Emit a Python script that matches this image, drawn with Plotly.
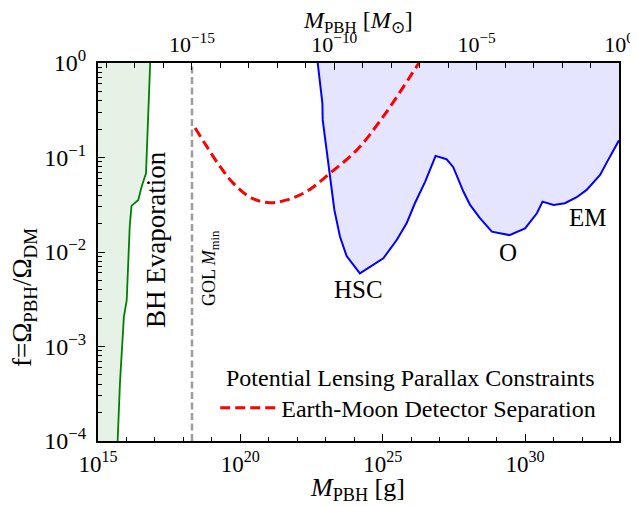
import plotly.graph_objects as go

# ---- data ----
MSUN_G = 1.989e33

evap_m = [6.8e16, 4.85e16, 3.4e16, 2.6e16, 1.5e16, 1.3e16, 1.02e16, 8.1e15, 5.9e15, 4.9e15]
evap_f = [1.0, 0.068, 0.049, 0.0356, 0.0308, 0.0186, 0.0031, 0.00206, 0.00041, 1e-4]

lens_m = [5.2e22, 7.6e22, 7.8e22, 1.41e23, 2.0e23, 3.16e23, 5.4e23, 1.58e24, 1.05e25, 3.1e25,
          6.9e25, 1.35e26, 3.1e26, 7.2e26, 1.74e27, 3.0e27, 6.8e27, 1.17e28, 2.6e28, 6.8e28,
          2.8e29, 1.0e30, 2.6e30, 4.1e30, 1.0e31, 2.5e31, 6.5e31, 1.45e32, 4.3e32, 8.3e32,
          1.86e33, 1.989e33]
lens_f = [1.0, 0.377, 0.25, 0.0628, 0.0279, 0.0145, 0.00906, 0.00594, 0.00857, 0.0134,
          0.0201, 0.0328, 0.0556, 0.104, 0.096, 0.079, 0.0436, 0.0315, 0.0228, 0.0164,
          0.0151, 0.0178, 0.0257, 0.0341, 0.0315, 0.0328, 0.038, 0.0454, 0.0655, 0.0944,
          0.144, 0.152]

em_m = [2.57e18, 6.6e18, 1.95e19, 5.6e19, 2.5e20, 1.1e21, 4.3e21, 2.1e22, 1.41e23, 1.23e24,
        1.05e25, 1.86e26]
em_f = [0.205, 0.131, 0.080, 0.0535, 0.0371, 0.0333, 0.0356, 0.0436, 0.0682, 0.120,
        0.272, 1.0]

gol_mmin = 2.0e18

x_range = [1e15, MSUN_G]
y_range = [1e-4, 1.0]

bottom_ticks = [1e15, 1e20, 1e25, 1e30]
bottom_labels = ["10<sup>15</sup>", "10<sup>20</sup>", "10<sup>25</sup>", "10<sup>30</sup>"]
top_ticks = [1e-15, 1e-10, 1e-5, 1e0]
top_labels = ["10<sup>−15</sup>", "10<sup>−10</sup>", "10<sup>−5</sup>", "10<sup>0</sup>"]
y_ticks = [1e-4, 1e-3, 1e-2, 1e-1, 1e0]
y_labels = ["10<sup>−4</sup>", "10<sup>−3</sup>", "10<sup>−2</sup>", "10<sup>−1</sup>", "10<sup>0</sup>"]

FONT = "Liberation Serif"

fig = go.Figure()

# green fill (evaporation)
fig.add_trace(go.Scatter(
    x=[x_range[0]] + evap_m + [x_range[0]],
    y=[y_range[1]] + evap_f + [y_range[0]],
    fill="toself", fillcolor="rgba(0,128,0,0.1)", line=dict(width=0),
    mode="lines", showlegend=False, hoverinfo="skip"))
fig.add_trace(go.Scatter(x=evap_m, y=evap_f, mode="lines",
                         line=dict(color="green", width=1.8), showlegend=False))

# blue fill (lensing)
fig.add_trace(go.Scatter(
    x=lens_m + [x_range[1]],
    y=lens_f + [y_range[1]],
    fill="toself", fillcolor="rgba(0,0,255,0.1)", line=dict(width=0),
    mode="lines", showlegend=False, hoverinfo="skip"))
fig.add_trace(go.Scatter(x=lens_m, y=lens_f, mode="lines",
                         line=dict(color="blue", width=2), showlegend=False))

# GOL M_min
fig.add_trace(go.Scatter(x=[gol_mmin, gol_mmin], y=y_range, mode="lines",
                         line=dict(color="#9e9e9e", width=2.5, dash="7px,3.5px"),
                         showlegend=False))

# Earth-Moon
fig.add_trace(go.Scatter(x=em_m, y=em_f, mode="lines", name="Earth-Moon Detector Separation",
                         line=dict(color="red", width=3, dash="10px,5px", shape="spline"),
                         showlegend=True))

# dummy for top axis
fig.add_trace(go.Scatter(x=[1e-10], y=[0.5], xaxis="x2", mode="markers",
                         marker=dict(opacity=0), showlegend=False, hoverinfo="skip"))

def minors(lo, hi, skip):
    return [10.0 ** e for e in range(lo, hi + 1) if e not in skip]

ymin = [m * 10.0 ** e for e in range(-4, 0) for m in range(2, 10)]

TICKSIZE = 23
OFF = 8  # page body margin offset

fig.update_layout(
    width=630, height=498,
    margin=dict(l=98 - OFF, r=19, t=63 - OFF, b=65, autoexpand=False),
    plot_bgcolor="white", paper_bgcolor="white",
    font=dict(family=FONT, size=22, color="black"),
    xaxis=dict(type="log", range=[15, 33.29863], showgrid=False, zeroline=False,
               automargin=False,
               showline=True, linecolor="black", linewidth=2, mirror=False,
               tickvals=bottom_ticks, ticktext=bottom_labels,
               ticks="inside", ticklen=7, tickwidth=1.3, tickcolor="black",
               minor=dict(tickvals=minors(16, 33, {20, 25, 30}), ticks="inside",
                          ticklen=4.5, tickwidth=1, tickcolor="black", showgrid=False),
               tickfont=dict(size=TICKSIZE), ticklabelstandoff=1),
    xaxis2=dict(type="log", range=[-18.29863, 0], overlaying="x", side="top",
                automargin=False,
                showgrid=False, zeroline=False, showline=True, linecolor="black", linewidth=2,
                tickvals=top_ticks, ticktext=top_labels,
                ticks="inside", ticklen=7, tickwidth=1.3, tickcolor="black",
                minor=dict(tickvals=minors(-18, -1, {-15, -10, -5}), ticks="inside",
                           ticklen=4.5, tickwidth=1, tickcolor="black", showgrid=False),
                tickfont=dict(size=22), ticklabelstandoff=0),
    yaxis=dict(type="log", range=[-4, 0], showgrid=False, zeroline=False,
               automargin=False,
               showline=True, linecolor="black", linewidth=2, mirror=True,
               tickvals=y_ticks, ticktext=y_labels,
               ticks="inside", ticklen=7, tickwidth=1.3, tickcolor="black",
               minor=dict(tickvals=ymin, ticks="inside", ticklen=4, tickwidth=1,
                          tickcolor="black", showgrid=False),
               tickfont=dict(size=24), ticklabelstandoff=5),
    legend=dict(x=0.225, y=0.087, xanchor="left", yanchor="middle", itemwidth=56,
                bgcolor="rgba(0,0,0,0)", font=dict(size=24, family=FONT)),
)

PL, PT, PW, PH = 98, 63.3, 521.0, 377.4  # plot area in page pixels

def px2paper(px, py):
    return (px - PL) / PW, (PT + PH - py) / PH

def ann(text, px, py, size, angle=0):
    x, y = px2paper(px, py)
    fig.add_annotation(text=text, x=x, y=y, xref="paper", yref="paper",
                       showarrow=False, textangle=angle, xanchor="center", yanchor="middle",
                       borderpad=0,
                       font=dict(family=FONT, size=size, color="black"))

ann("BH Evaporation", 156, 240, 27, -90)
ann("GOL <i>M</i><sub>min</sub>", 210, 268, 18, -90)
ann("HSC", 358, 289, 25)
ann("O", 508, 252, 25)
ann("EM", 588, 218, 25)
ann("Potential Lensing Parallax Constraints", 410, 378, 24)
ann("f=Ω<sub>PBH</sub>/Ω<sub>DM</sub>", 24, 298, 27, -90)
ann("<i>M</i><sub>PBH</sub> [g]", 357, 489, 26)
ann("<i>M</i><sub>PBH</sub> [<i>M</i><sub>⊙</sub>]", 358, 22, 24)

fig.write_html("out.html")
